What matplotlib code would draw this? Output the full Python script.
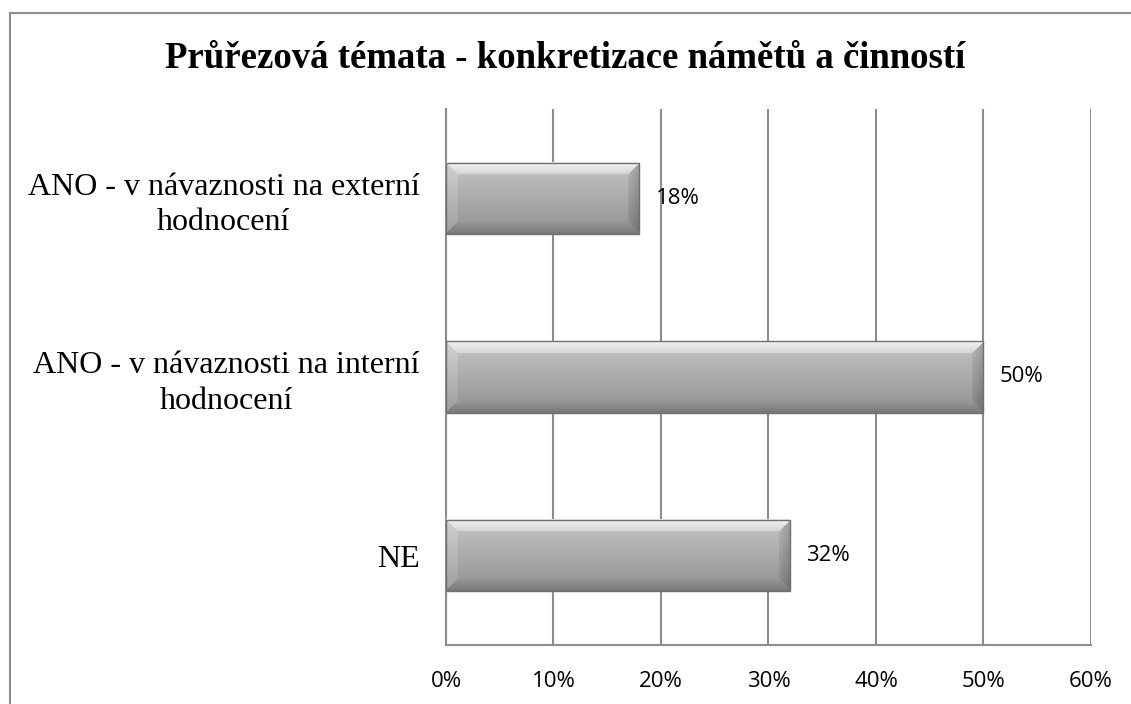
import matplotlib.pyplot as plt
import numpy as np
from matplotlib.patches import Rectangle

categories = ['ANO - v návaznosti na externí\nhodnocení',
              'ANO - v návaznosti na interní\nhodnocení',
              'NE']
values = [18, 50, 32]
xticks = [0, 10, 20, 30, 40, 50, 60]
title = 'Průřezová témata - konkretizace námětů a činností'

W, H, DPI = 1131, 704, 100
fig = plt.figure(figsize=(W / DPI, H / DPI), dpi=DPI)
ax = fig.add_axes([0.3943, 0.0838, 0.5703, 0.7614])

# outer frame of the chart
fig.patches.append(Rectangle((9.5 / W, -0.1), 1.2, 1 - 12.5 / H + 0.1,
                             transform=fig.transFigure, fill=False,
                             edgecolor='#8c8c8c', lw=1.5))

ypos = np.arange(len(categories))[::-1]
bar_h = 0.4

# pixels per data unit
px_x = 0.5703 * W / 60
px_y = 0.7614 * H / len(categories)


def bevel_image(w_px, h_px, b=12):
    yy, xx = np.mgrid[0:h_px, 0:w_px].astype(float)
    t = yy / max(h_px - 1, 1)
    img = 0.77 - 0.20 * t  # light top -> darker bottom
    # distance to each edge, the smallest one decides the bevel face
    d_top = yy
    d_bot = h_px - 1 - yy
    d_left = xx
    d_right = w_px - 1 - xx
    dmin = np.minimum.reduce([d_top, d_bot, d_left, d_right])
    inb = dmin < b
    top = inb & (d_top == dmin)
    bot = inb & (d_bot == dmin) & ~top
    left = inb & (d_left == dmin) & ~top & ~bot
    right = inb & (d_right == dmin) & ~top & ~bot & ~left
    img[top] = 0.95 - 0.12 * (d_top[top] / b)
    img[left] = img[left] + 0.05
    img[right] = img[right] - 0.10 * (1 - d_right[right] / b) - 0.04
    img[bot] = img[bot] - 0.10 * (1 - d_bot[bot] / b)
    img = np.clip(img, 0, 1)
    return np.dstack([img, img, img])


for y, v in zip(ypos, values):
    w_px = int(v * px_x)
    h_px = int(bar_h * px_y)
    ax.imshow(bevel_image(w_px, h_px), extent=(0, v, y - bar_h / 2, y + bar_h / 2),
              aspect='auto', interpolation='bilinear', zorder=3)
    ax.add_patch(Rectangle((0, y - bar_h / 2), v, bar_h, fill=False,
                           edgecolor='#707070', lw=1.0, zorder=4))
    ax.text(v + 16 / px_x, y, f'{v}%', va='center', ha='left',
            fontsize=16, family='Open Sans', zorder=5)

ax.set_xlim(0, 60)
ax.set_ylim(-0.5, len(categories) - 0.5)
ax.set_xticks(xticks)
ax.set_xticklabels([f'{t}%' for t in xticks], fontsize=16, family='Open Sans')
ax.set_yticks(ypos)
ax.set_yticklabels(categories, fontsize=23, family='Liberation Serif',
                   ha='right', multialignment='center', linespacing=1.3)
ax.tick_params(axis='x', length=0, pad=19)
ax.tick_params(axis='y', length=0, pad=19)
ax.grid(axis='x', color='#8c8c8c', lw=1.5, zorder=1)
ax.set_axisbelow(True)
for s in ['top', 'right']:
    ax.spines[s].set_visible(False)
for s in ['left', 'bottom']:
    ax.spines[s].set_color('#8c8c8c')
    ax.spines[s].set_linewidth(1.5)

fig.text(0.5, 1 - 59 / H, title, ha='center', va='center',
         fontsize=26.5, fontweight='bold', family='Liberation Serif')

fig.savefig('out.png', dpi=DPI)
